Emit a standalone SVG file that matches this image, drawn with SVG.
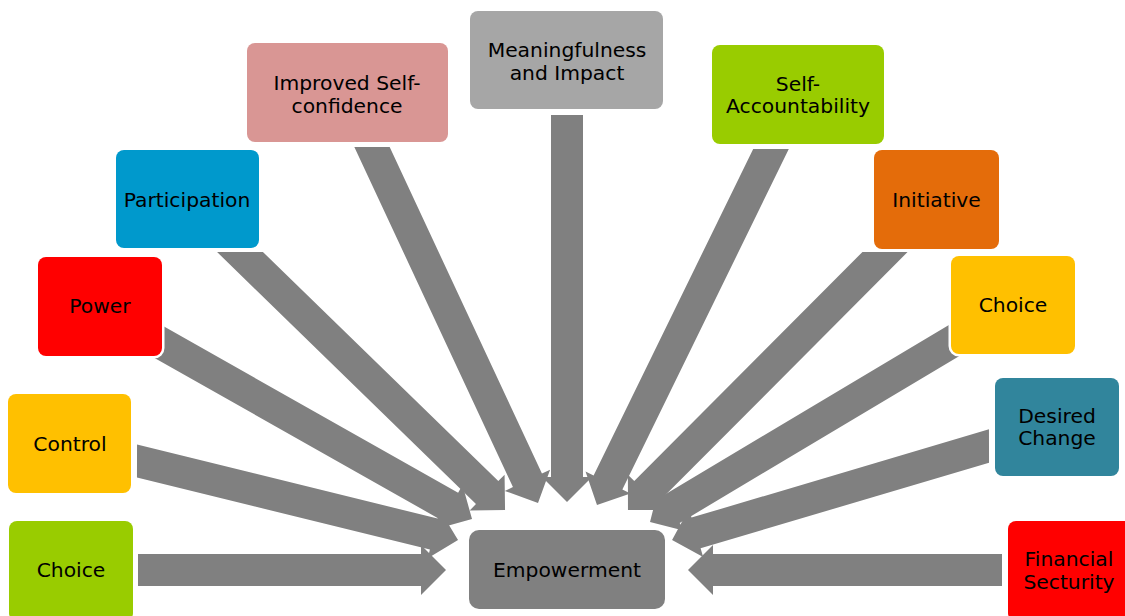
<svg xmlns="http://www.w3.org/2000/svg" width="1125" height="616" viewBox="0 0 1125 616">
<style>
.arr{fill:#808080;}
.box{stroke:#ffffff;stroke-width:5;paint-order:stroke;}
.t{font-family:"DejaVu Sans",Verdana,sans-serif;font-size:20.3px;fill:#000000;text-anchor:middle;}
</style>
<rect x="0" y="0" width="1125" height="616" fill="#ffffff"/>
<g id="connectors">
<polygon class="arr" transform="translate(138 570) rotate(0)" points="0,-16 283,-16 283,-25 308,0 283,25 283,16 0,16"/>
<polygon class="arr" transform="translate(137 461) rotate(13.83)" points="-3.9,-16 305.6,-16 305.6,-25 330.6,0 305.6,25 305.6,16 3.9,16"/>
<polygon class="arr" transform="translate(150 337) rotate(29.48)" points="0,-16 344.9,-16 344.9,-25 369.9,0 344.9,25 344.9,16 0,16"/>
<polygon class="arr" transform="translate(240 252) rotate(44.23)" points="16.4,-16 344.9,-16 344.9,-25 369.9,0 344.9,25 344.9,16 -16.4,16"/>
<polygon class="arr" transform="translate(372 147) rotate(65)" points="7.5,-16 367.8,-16 367.8,-25 392.8,0 367.8,25 367.8,16 -7.5,16"/>
<polygon class="arr" transform="translate(567 115) rotate(90)" points="0,-16 362,-16 362,-25 387,0 362,25 362,16 0,16"/>
<polygon class="arr" transform="translate(771 149) rotate(116.05)" points="-7.8,-16 371.2,-16 371.2,-25 396.2,0 371.2,25 371.2,16 7.8,16"/>
<polygon class="arr" transform="translate(885 252) rotate(134.89)" points="-15.9,-16 339.2,-16 339.2,-25 364.2,0 339.2,25 339.2,16 15.9,16"/>
<polygon class="arr" transform="translate(960 337) rotate(149.17)" points="0,-16 336,-16 336,-25 361,0 336,25 336,16 0,16"/>
<polygon class="arr" transform="translate(989 446) rotate(163.47)" points="4.7,-16 305.6,-16 305.6,-25 330.6,0 305.6,25 305.6,16 -4.7,16"/>
<polygon class="arr" transform="translate(1002 570) rotate(180)" points="0,-16 289,-16 289,-25 314,0 289,25 289,16 0,16"/>
</g>
<g id="choice-left"><rect class="box" x="9" y="521" width="124" height="100" rx="8" fill="#99CC00"/><text class="t" x="71" y="577">Choice</text></g>
<g id="control"><rect class="box" x="8" y="394" width="123" height="99" rx="8" fill="#FFC000"/><text class="t" x="70" y="451">Control</text></g>
<g id="power"><rect class="box" x="38" y="257" width="124" height="99" rx="8" fill="#FF0000"/><text class="t" x="100" y="313">Power</text></g>
<g id="participation"><rect class="box" x="116" y="150" width="143" height="98" rx="8" fill="#0099CC"/><text class="t" x="187" y="207">Participation</text></g>
<g id="self-confidence"><rect class="box" x="247" y="43" width="201" height="99" rx="8" fill="#D99694"/><text class="t" x="347" y="90">Improved Self-</text><text class="t" x="347" y="112.5">confidence</text></g>
<g id="meaningfulness"><rect class="box" x="470" y="11" width="193" height="98" rx="8" fill="#A6A6A6"/><text class="t" x="567" y="57">Meaningfulness</text><text class="t" x="567" y="79.5">and Impact</text></g>
<g id="self-accountability"><rect class="box" x="712" y="45" width="172" height="99" rx="8" fill="#99CC00"/><text class="t" x="798" y="90.5">Self-</text><text class="t" x="798" y="113">Accountability</text></g>
<g id="initiative"><rect class="box" x="874" y="150" width="125" height="99" rx="8" fill="#E46C0A"/><text class="t" x="936.5" y="206.5">Initiative</text></g>
<g id="choice-right"><rect class="box" x="951" y="256" width="124" height="98" rx="8" fill="#FFC000"/><text class="t" x="1013" y="312">Choice</text></g>
<g id="desired-change"><rect class="box" x="995" y="378" width="124" height="98" rx="8" fill="#31859C"/><text class="t" x="1057" y="422.5">Desired</text><text class="t" x="1057" y="445">Change</text></g>
<g id="financial-security"><rect class="box" x="1008" y="521" width="126" height="100" rx="8" fill="#FF0000"/><text class="t" x="1069" y="566">Financial</text><text class="t" x="1069" y="588.5">Secturity</text></g>
<g id="empowerment"><rect class="box" x="469" y="530" width="196" height="79" rx="10" fill="#808080"/><text class="t" x="567" y="577">Empowerment</text></g>
</svg>
